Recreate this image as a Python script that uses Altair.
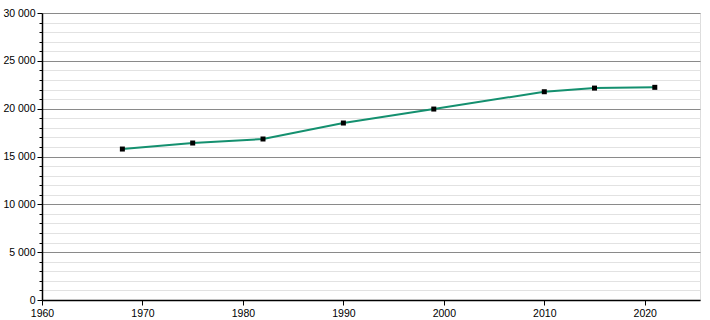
import altair as alt
import pandas as pd

years = [1968, 1975, 1982, 1990, 1999, 2010, 2015, 2021]
population = [15780, 16410, 16830, 18500, 19960, 21770, 22150, 22230]

x_ticks = [1960, 1970, 1980, 1990, 2000, 2010, 2020]
y_ticks = list(range(0, 30001, 1000))

df = pd.DataFrame({"year": years, "pop": population})

FONT = "Liberation Sans"

x_enc = alt.X(
    "year:Q",
    scale=alt.Scale(domain=[1960, 2025.5], nice=False, zero=False),
    axis=alt.Axis(
        values=x_ticks, format="d", title=None, grid=False, tickCount=50,
        tickSize=5, tickColor="black", domainColor="black", domainWidth=1.5,
        labelFont=FONT, labelFontSize=10.5, labelColor="black", labelPadding=3,
        labelFlush=False, labelOverlap=False,
    ),
)
y_enc = alt.Y(
    "pop:Q",
    scale=alt.Scale(domain=[0, 30000], nice=False),
    axis=alt.Axis(
        values=y_ticks, title=None, grid=True, tickCount=100,
        gridColor={"condition": {"test": "datum.value % 5000 === 0", "value": "#8a8a8a"}, "value": "#e2e2e2"},
        gridWidth=1,
        tickSize={"condition": {"test": "datum.value % 5000 === 0", "value": 5}, "value": 3},
        tickColor="black", domainColor="black", domainWidth=1.5,
        labelExpr="datum.value % 5000 === 0 ? replace(format(datum.value, ','), ',', ' ') : ''",
        labelFont=FONT, labelFontSize=10.5, labelColor="black", labelPadding=2,
        labelFlush=False, labelOverlap=False,
    ),
)

line = alt.Chart(df).mark_line(color="#14906f", strokeWidth=2).encode(x=x_enc, y=y_enc)
pts = alt.Chart(df).mark_square(color="black", size=25, opacity=1).encode(x=x_enc, y=y_enc)

chart = (
    alt.layer(line, pts)
    .properties(
        width=658, height=287,
        autosize=alt.AutoSizeParams(type="none"),
        padding={"left": 42, "top": 13, "right": 10, "bottom": 20},
    )
    .configure_view(stroke=None)
    .configure(background="white")
)

chart.save("out.html", embed_options={"renderer": "svg", "actions": False})
